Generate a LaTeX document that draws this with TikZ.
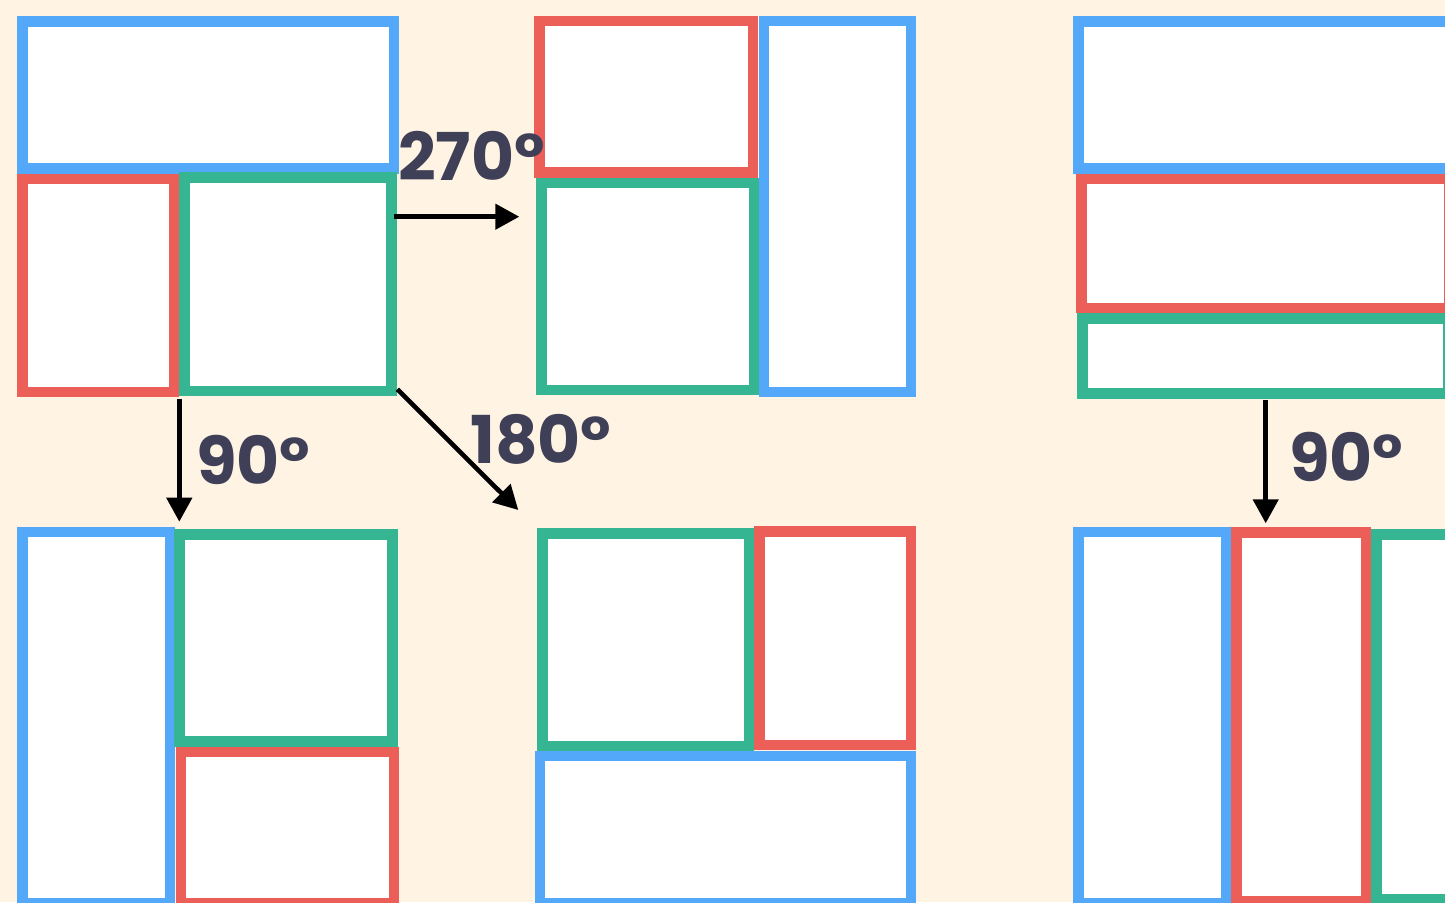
\documentclass[tikz,border=0pt]{standalone}
\usepackage{fontspec}
\newfontfamily\lblfont{Poppins}
\usetikzlibrary{arrows.meta}
\definecolor{bgc}{HTML}{FFF4E3}
\definecolor{bluec}{HTML}{53A8FA}
\definecolor{redc}{HTML}{EB5F58}
\definecolor{greenc}{HTML}{35B592}
\definecolor{txtc}{HTML}{3F4058}
\tikzset{
  frame/.style={line width=10.5pt, fill=white},
  bframe/.style={frame, draw=bluec},
  rframe/.style={frame, draw=redc},
  gframe/.style={frame, draw=greenc},
  turn/.style={line width=4.6pt, draw=black, -{Triangle[length=24pt,width=25pt]}},
  anglelbl/.style={anchor=base west, inner sep=0pt, text=txtc, font=\lblfont\bfseries\fontsize{66}{66}\selectfont}
}
% outer edges x1 y1 x2 y2 -> stroke centred inside
\def\pbox#1#2#3#4#5{\draw[#1] ({#2+5.25},{#3+5.25}) rectangle ({#4-5.25},{#5-5.25});}
\begin{document}
\begin{tikzpicture}[x=1pt,y=-1pt]
\fill[bgc] (0,0) rectangle (1445,902);
\useasboundingbox (0,0) rectangle (1445,902);
\clip (0,0) rectangle (1445,902);
% top-left
\pbox{bframe}{17}{16}{399}{173.7}
\pbox{rframe}{17}{173.7}{179.3}{397.3}
\pbox{gframe}{179.3}{172}{396.7}{396.3}
% top-middle
\pbox{rframe}{534.3}{15.7}{758.3}{177.7}
\pbox{gframe}{536}{177.7}{759.7}{395.3}
\pbox{bframe}{758.7}{15.7}{916.3}{397.3}
% top-right
\pbox{bframe}{1073.3}{16}{1455}{173.7}
\pbox{rframe}{1076}{173.7}{1454}{313.3}
\pbox{gframe}{1077}{313.3}{1453}{398.7}
% bottom-left
\pbox{bframe}{17}{526.7}{175}{908}
\pbox{gframe}{174}{529.3}{397.7}{746.7}
\pbox{rframe}{175.7}{746.7}{399}{908}
% bottom-middle
\pbox{gframe}{537}{528.3}{754}{751.3}
\pbox{rframe}{754.3}{526.3}{916.3}{750}
\pbox{bframe}{534.7}{750.7}{916.3}{908}
% bottom-right
\pbox{bframe}{1073.3}{526.7}{1231.3}{908}
\pbox{rframe}{1231.3}{527.3}{1371}{906}
\pbox{gframe}{1371}{529}{1460}{904.5}
% arrow end points
\coordinate (a270s) at (394.3,216.7);
\coordinate (a270e) at (519.3,216.7);
\coordinate (a180s) at (397.3,389.3);
\coordinate (a180e) at (518.3,510);
\coordinate (a90ls) at (179.3,399.3);
\coordinate (a90le) at (179.3,521.7);
\coordinate (a90rs) at (1265.7,400);
\coordinate (a90re) at (1265.7,523.3);
\draw[turn] (a270s) -- (a270e);
\draw[turn] (a180s) -- (a180e);
\draw[turn] (a90ls) -- (a90le);
\draw[turn] (a90rs) -- (a90re);
% labels
\node[anglelbl] (l270) at (398,180) {270°};
\node[anglelbl] (l180) at (470,463.3) {180°};
\node[anglelbl] (l90l) at (196,484) {90°};
\node[anglelbl] (l90r) at (1289,481.5) {90°};
\end{tikzpicture}
\end{document}
